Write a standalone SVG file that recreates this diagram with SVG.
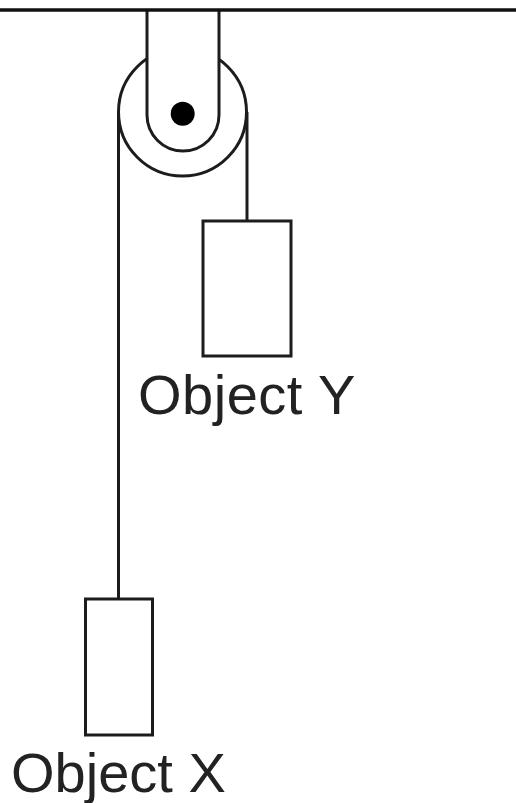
<svg xmlns="http://www.w3.org/2000/svg" width="516" height="803" viewBox="0 0 516 803">
<style>
.s{fill:none;stroke:#1c1c1c;stroke-width:3}
.b{fill:#fff;stroke:#1c1c1c;stroke-width:3}
.t{font-family:"Liberation Sans",Arial,sans-serif;font-size:56px;fill:#222}
</style>
<rect width="516" height="803" fill="#fff"/>
<g id="pulley">
<circle class="s" cx="182.500" cy="112" r="64"/>
<path class="b" d="M147 10V115A36 36 0 0 0 219 115V10"/>
<circle cx="182.700" cy="113.700" r="12" fill="#000"/>
</g>
<g id="ceiling"><line class="s" style="stroke-width:3.500;stroke:#111" x1="0" y1="10" x2="516" y2="10"/></g>
<g id="connectors">
<line class="s" x1="118.500" y1="112" x2="118.500" y2="599"/>
<line class="s" x1="247" y1="112" x2="247" y2="221"/>
</g>
<g id="object-y">
<rect class="b" x="203" y="221" width="88" height="135"/>
<text class="t" x="138" y="414" letter-spacing="0.500">Object Y</text>
</g>
<g id="object-x">
<rect class="b" x="85.500" y="599" width="67" height="136"/>
<text class="t" x="11" y="792">Object X</text>
</g>
</svg>
